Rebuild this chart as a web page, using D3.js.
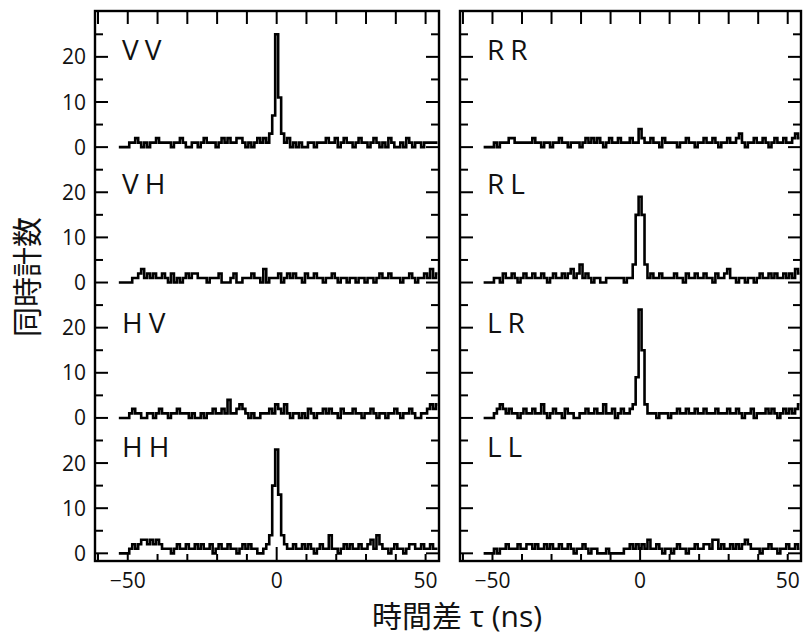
<!DOCTYPE html>
<html>
<head>
<meta charset="utf-8">
<script src="https://cdn.jsdelivr.net/npm/d3@7"></script>
<style>
    body { margin: 0; background: #fff; }
    svg { display: block; }
    text { fill: #111; font-family: "Open Sans", "Noto Sans CJK JP", sans-serif; }
</style>
</head>
<body>
<div id="chart"></div>
<script>
// coincidence counts per 1 ns bin, tau from -53 to 54 ns
const tauStart = -53;
const tauStep = 1;

const countsVV = [
    0,0,0,0,1,1,2,1,0,1,
    0,1,1,2,1,1,1,1,0,1,
    1,2,1,0,0,1,1,0,1,2,
    1,1,1,0,1,2,1,2,1,1,
    2,2,1,0,1,0,1,2,1,2,
    1,3,7,25,11,3,1,2,0,1,
    0,1,0,0,1,1,0,1,1,1,
    2,1,1,2,0,1,2,1,1,0,
    1,2,1,1,0,1,2,1,0,1,
    0,2,1,0,0,1,0,2,1,0,
    1,1,0,1,1,1,1,1
];
const countsVH = [
    0,0,0,0,0,1,1,2,3,1,
    2,1,2,1,1,2,1,0,2,0,
    1,0,1,2,1,2,2,1,1,1,
    0,1,1,1,2,0,0,0,1,2,
    0,0,1,1,1,2,1,1,0,3,
    0,1,1,1,2,0,1,2,1,2,
    1,1,0,2,1,1,2,1,1,0,
    1,1,2,1,0,1,1,0,1,1,
    0,1,1,0,1,1,0,1,2,1,
    1,2,1,1,1,0,1,1,2,1,
    0,1,1,2,1,3,1,2
];
const countsHV = [
    0,0,0,0,1,2,1,1,0,0,
    1,1,0,1,2,1,1,0,1,1,
    2,1,1,1,0,1,0,0,1,0,
    1,1,2,1,1,2,1,4,1,1,
    2,3,2,1,0,1,0,0,1,1,
    1,2,1,3,2,1,3,1,0,1,
    1,0,1,0,2,1,0,1,1,2,
    1,2,1,1,0,2,1,1,1,2,
    1,1,0,1,1,2,1,0,1,1,
    0,1,1,2,1,0,1,1,2,1,
    0,0,1,1,2,3,2,3
];
const countsHH = [
    0,0,0,0,1,2,1,2,3,3,
    2,3,2,3,2,1,1,1,0,1,
    2,1,1,2,1,1,2,1,2,1,
    1,2,0,1,2,1,1,2,1,1,
    0,1,2,1,2,1,1,0,0,1,
    2,4,15,23,13,4,2,1,1,2,
    1,1,2,1,2,1,0,1,2,1,
    1,4,1,1,0,1,2,1,2,1,
    1,2,1,1,2,3,1,4,2,1,
    1,0,1,2,1,1,0,1,2,2,
    1,1,2,1,1,2,1,1
];
const countsRR = [
    0,0,0,0,1,0,1,1,1,2,
    2,1,1,1,1,1,1,2,1,1,
    0,1,1,0,1,1,2,1,1,0,
    1,1,1,0,1,2,1,2,1,2,
    1,0,1,2,1,1,2,1,1,1,
    2,1,1,4,2,1,1,2,1,1,
    0,2,1,1,1,1,0,1,1,2,
    1,1,0,1,1,2,1,1,2,1,
    0,1,1,2,1,1,2,3,1,0,
    1,1,2,1,1,2,1,0,1,2,
    1,1,2,1,1,2,3,2
];
const countsRL = [
    0,0,0,0,1,1,0,2,1,1,
    2,1,0,1,2,1,1,2,1,1,
    2,1,0,1,2,1,1,2,1,2,
    3,1,2,4,1,2,1,0,1,1,
    0,0,1,1,1,1,1,1,0,1,
    1,4,15,19,15,4,1,2,1,1,
    2,1,1,1,1,2,1,1,0,2,
    1,1,2,1,1,2,1,1,0,2,
    1,1,2,3,1,1,0,1,1,0,
    1,1,0,1,2,1,1,2,1,2,
    1,1,2,1,2,1,3,2
];
const countsLR = [
    0,0,0,0,1,2,3,2,1,2,
    1,1,0,1,2,1,1,2,1,1,
    3,1,0,1,2,1,1,0,2,1,
    1,0,0,1,1,2,1,1,2,1,
    1,3,1,1,2,0,1,2,1,1,
    2,3,9,24,15,3,1,1,1,0,
    1,1,1,0,1,1,2,1,1,2,
    1,1,2,1,1,2,1,1,1,2,
    1,1,1,2,1,1,2,1,0,1,
    1,2,0,1,1,1,2,1,2,1,
    0,1,2,1,2,1,2,3
];
const countsLL = [
    0,0,0,0,1,0,1,1,2,1,
    1,1,2,1,1,2,2,1,2,1,
    1,2,1,2,1,1,2,1,1,2,
    1,0,1,1,2,1,0,1,1,0,
    0,0,1,0,0,0,0,0,1,1,
    2,1,2,1,2,1,3,1,1,2,
    1,0,1,1,0,1,2,1,1,0,
    1,1,2,1,1,2,2,1,3,3,
    1,2,1,1,2,1,2,1,2,3,
    2,1,1,1,0,1,1,2,1,1,
    0,1,1,2,1,1,2,1
];

const leftLabels = ['VV', 'VH', 'HV', 'HH'];
const rightLabels = ['RR', 'RL', 'LR', 'LL'];
const leftSeries = [countsVV, countsVH, countsHV, countsHH];
const rightSeries = [countsRR, countsRL, countsLR, countsLL];

const xDomain = [-61, 54.5];
const yDomain = [-1.7, 28.3];
const xTickValues = [-60, -50, -40, -30, -20, -10, 0, 10, 20, 30, 40, 50];
const xTickLabels = [-50, 0, 50];
const yMajorTicks = [0, 10, 20];
const yMinorTicks = [5, 15, 25];

// layout
const W = 805, H = 635;
const frameTop = 11, frameBottom = 561;
const panelH = 135.4;
const columns = [
    { x0: 95, x1: 439, labels: leftLabels, series: leftSeries, tickLabels: true },
    { x0: 460, x1: 801, labels: rightLabels, series: rightSeries, tickLabels: false }
];
const labelBaselines = [60, 194, 333, 457];

const svg = d3.select('#chart').append('svg')
    .attr('width', W)
    .attr('height', H);

const fmt = d => d < 0 ? '\u2212' + Math.abs(d) : String(d);

columns.forEach(col => {
    const x = d3.scaleLinear().domain(xDomain).range([col.x0, col.x1]);
    const g = svg.append('g');

    col.series.forEach((counts, i) => {
        const bottom = frameBottom - (3 - i) * panelH;
        const y = d3.scaleLinear().domain(yDomain).range([bottom, bottom - panelH]);
        const pts = counts.map((v, k) => ({ t: tauStart + k * tauStep, v: v }));

        const line = d3.line()
            .x(d => x(d.t))
            .y(d => y(d.v))
            .curve(d3.curveStep);

        g.append('path')
            .datum(pts)
            .attr('fill', 'none')
            .attr('stroke', '#000')
            .attr('stroke-width', 2.6)
            .attr('stroke-linejoin', 'miter')
            .attr('d', line);

        // inward ticks on both sides
        const ticks = yMajorTicks.map(v => ({ v, len: 13 }))
            .concat(yMinorTicks.map(v => ({ v, len: 8 })));
        ticks.forEach(tk => {
            g.append('line')
                .attr('x1', col.x0).attr('x2', col.x0 + tk.len)
                .attr('y1', y(tk.v)).attr('y2', y(tk.v))
                .attr('stroke', '#000').attr('stroke-width', 2);
            g.append('line')
                .attr('x1', col.x1).attr('x2', col.x1 - tk.len)
                .attr('y1', y(tk.v)).attr('y2', y(tk.v))
                .attr('stroke', '#000').attr('stroke-width', 2);
        });

        if (col.tickLabels) {
            g.selectAll(null)
                .data(yMajorTicks)
                .enter()
                .append('text')
                .attr('x', col.x0 - 9)
                .attr('y', d => y(d))
                .attr('dy', '0.36em')
                .attr('text-anchor', 'end')
                .attr('font-size', '21px')
                .text(d => d);
        }

        g.append('text')
            .attr('x', col.x0 + 27)
            .attr('y', labelBaselines[i])
            .attr('font-size', '28px')
            .attr('letter-spacing', '6px')
            .text(col.labels[i]);
    });

    // top and bottom ticks
    xTickValues.forEach(t => {
        g.append('line')
            .attr('x1', x(t)).attr('x2', x(t))
            .attr('y1', frameTop).attr('y2', frameTop + 13)
            .attr('stroke', '#000').attr('stroke-width', 2);
        g.append('line')
            .attr('x1', x(t)).attr('x2', x(t))
            .attr('y1', frameBottom).attr('y2', frameBottom - (t === 0 ? 14 : 7))
            .attr('stroke', '#000').attr('stroke-width', 2);
    });

    g.selectAll(null)
        .data(xTickLabels)
        .enter()
        .append('text')
        .attr('x', d => x(d))
        .attr('y', 588)
        .attr('text-anchor', 'middle')
        .attr('font-size', '21px')
        .text(fmt);

    g.append('rect')
        .attr('x', col.x0)
        .attr('y', frameTop)
        .attr('width', col.x1 - col.x0)
        .attr('height', frameBottom - frameTop)
        .attr('fill', 'none')
        .attr('stroke', '#000')
        .attr('stroke-width', 2.4);
});

svg.append('text')
    .attr('transform', 'translate(27,277) rotate(-90)')
    .attr('text-anchor', 'middle')
    .attr('dy', '0.35em')
    .attr('font-size', '30px')
    .attr('font-family', '"Noto Sans CJK JP", sans-serif')
    .text('同時計数');

svg.append('text')
    .attr('x', 457)
    .attr('y', 627)
    .attr('text-anchor', 'middle')
    .attr('font-size', '30px')
    .text('時間差 τ (ns)');
</script>
</body>
</html>
